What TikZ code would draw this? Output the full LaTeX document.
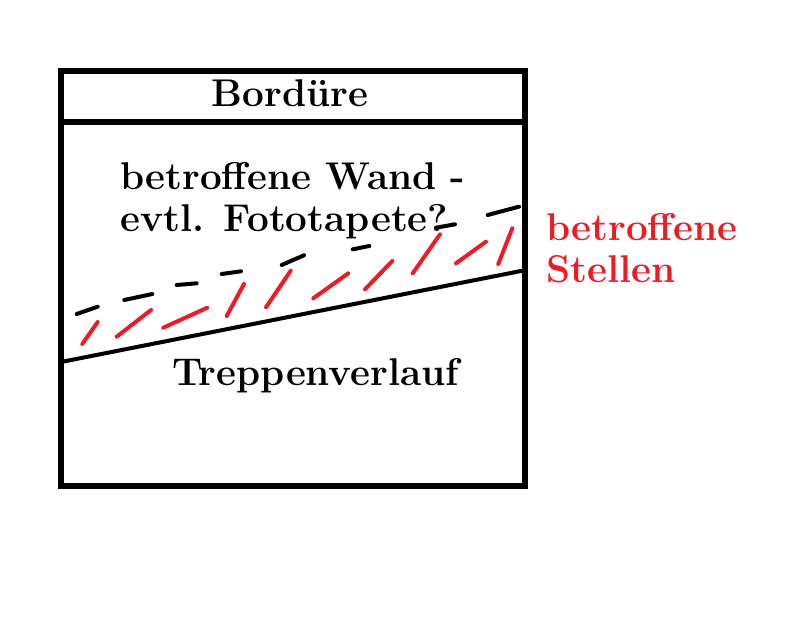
\documentclass[tikz,border=0pt]{standalone}
\definecolor{paintred}{RGB}{237,28,36}
\tikzset{
  wall/.style={line width=3.8pt},
  label/.style={font=\fontsize{29}{32}\selectfont\bfseries, inner sep=0pt, anchor=base west},
}
\begin{document}
\begin{tikzpicture}[x=0.75pt, y=-0.75pt]
\useasboundingbox (0,0) rectangle (795,620);
\coordinate (tl) at (61,71);
\coordinate (br) at (525,486);
\draw[wall] (tl) rectangle (br);
\draw[wall] (61,122) -- (525,122);
\node[label, anchor=base] (bord) at (290,107) {Bordüre};
\node[label] (wand) at (120,190) {betroffene Wand -};
\node[label] (foto) at (120,232) {evtl. Fototapete?};
\node[label] (trep) at (172,385) {Treppenverlauf};
\node[label, text=paintred] (st1) at (546,240) {betroffene};
\node[label, text=paintred] (st2) at (546,282) {Stellen};
\coordinate (s1) at (61,362);
\coordinate (s2) at (526,270);
\draw[line width=3pt] (s1) -- (s2);
\foreach \a/\b/\c/\d in {76.7/314/97.7/306.7, 124.3/300/152.3/294, 176.7/285/196.7/283.3,
  221.7/274/241/271.3, 281.7/265/304/255.3, 352.7/249.3/369.3/246,
  438.3/227.3/455/224.3, 487.7/215/519/206.7}
{\draw[line width=3pt, line cap=round] (\a,\b) -- (\c,\d);
}
\foreach \a/\b/\c/\d in {82.3/344/97.7/322, 116.7/336.7/151/310, 163.3/327.7/207.3/307.7,
  226.7/316/244/284, 266/307.3/290.7/270.7, 313.3/298.3/348.3/273.3,
  365/289.3/392.3/261, 412.7/273.3/440/234.3, 456/263.3/486/241.7, 498.3/264/512.3/228.3}
{\draw[paintred, line width=3pt, line cap=round] (\a,\b) -- (\c,\d);
}
\end{tikzpicture}
\end{document}
